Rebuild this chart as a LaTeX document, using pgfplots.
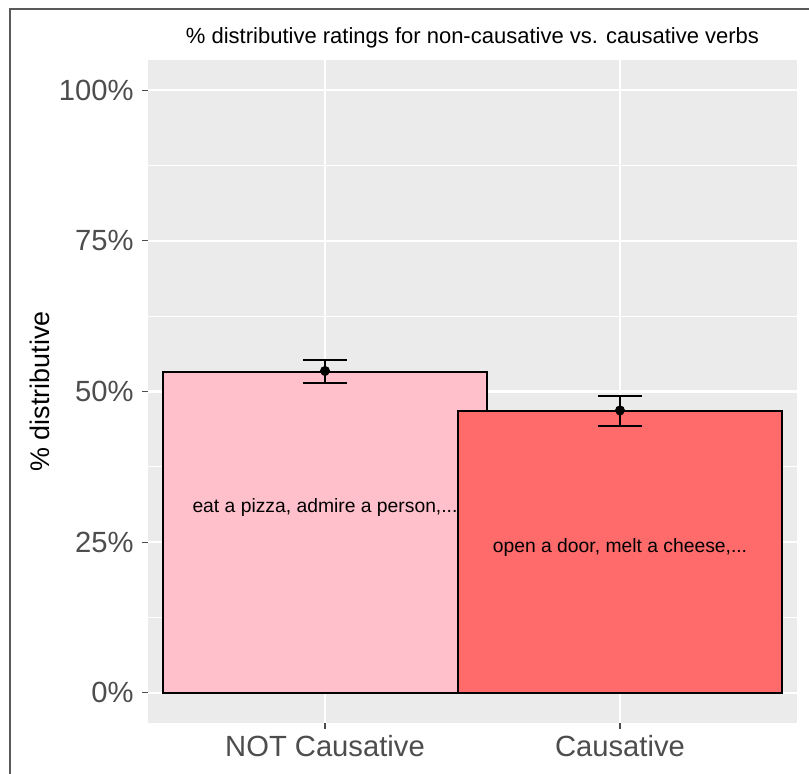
\documentclass[border=0pt]{standalone}
\usepackage{pgfplots}
\pgfplotsset{compat=1.18}
\usepackage{fontspec}
\setmainfont{Liberation Sans}
\definecolor{panelgrey}{HTML}{EBEBEB}
\definecolor{ticktext}{HTML}{4D4D4D}
\definecolor{barpink}{HTML}{FFC0CB}
\definecolor{barred}{HTML}{FF6A6A}
\definecolor{framegrey}{HTML}{5A5A5A}
\begin{document}
\begin{tikzpicture}
\begin{axis}[
  name=ax,
  set layers,
  scale only axis,
  width=324.5pt, height=331.5pt,
  xmin=0.4, xmax=2.6,
  ymin=-5, ymax=105,
  clip=false,
  xtick={1,2},
  xticklabels={NOT Causative, Causative},
  ytick={0,25,50,75,100},
  yticklabels={0\%,25\%,50\%,75\%,100\%},
  minor ytick={12.5,37.5,62.5,87.5},
  xmajorgrids, ymajorgrids, yminorgrids,
  major grid style={white, line width=1.1pt},
  minor grid style={white, line width=0.55pt},
  axis line style={draw=none},
  axis background/.style={fill=panelgrey},
  tick align=outside,
  major tick length=3pt,
  minor tick length=0pt,
  tick style={ticktext, line width=0.6pt},
  xtick pos=bottom, ytick pos=left,
  ticklabel style={font=\fontsize{14.6}{17}\selectfont, text=ticktext},
  yticklabel style={inner sep=0pt, anchor=east, xshift=-4pt},
  xticklabel style={inner sep=0pt, anchor=north, yshift=-3pt},
  ylabel={\% distributive},
  ylabel style={at={(axis description cs:-0.151,0.5)}, anchor=base, rotate=0, font=\fontsize{13.45}{15}\selectfont, text=black},
  every axis title shift=0pt,
  title={\% distributive ratings for non-causative vs. causative verbs},
  title style={at={(axis description cs:0.5,1.0256)}, anchor=base, font=\fontsize{11}{13}\selectfont, text=black},
]
% mean points (drawn under the bars)
\addplot[on layer=axis lines, mark layer=axis lines, only marks, mark=*, mark size=2.3pt, black] coordinates {(1,53.4) (2,46.85)};
% bars
\addplot[ybar, bar width=1.1, bar shift=0pt, fill=barpink, draw=black, line width=1pt] coordinates {(1,53.3)};
\addplot[ybar, bar width=1.1, bar shift=0pt, fill=barred, draw=black, line width=1pt] coordinates {(2,46.75)};
% error bars
\addplot[black, only marks, mark=none,
  error bars/.cd, y dir=both, y explicit,
  error bar style={line width=1pt, black},
  error mark options={rotate=90, mark size=11pt, line width=1pt, black}]
  coordinates {(1,53.3) +- (0,1.9) (2,46.75) +- (0,2.45)};
\node[font=\fontsize{9.65}{11}\selectfont] at (axis cs:1,30.7) {eat a pizza, admire a person,...};
\node[font=\fontsize{9.65}{11}\selectfont] at (axis cs:2,24.1) {open a door, melt a cheese,...};
\end{axis}
\draw[framegrey, line width=0.7pt] ([shift={(-69pt,-30pt)}]ax.south west) -- ([shift={(-69pt,357pt)}]ax.south west) -- ([shift={(335pt,357pt)}]ax.south west);
\pgfresetboundingbox
\path[use as bounding box] ([shift={(-74pt,-25pt)}]ax.south west) rectangle ([shift={(330.5pt,361.5pt)}]ax.south west);
\end{tikzpicture}
\end{document}
